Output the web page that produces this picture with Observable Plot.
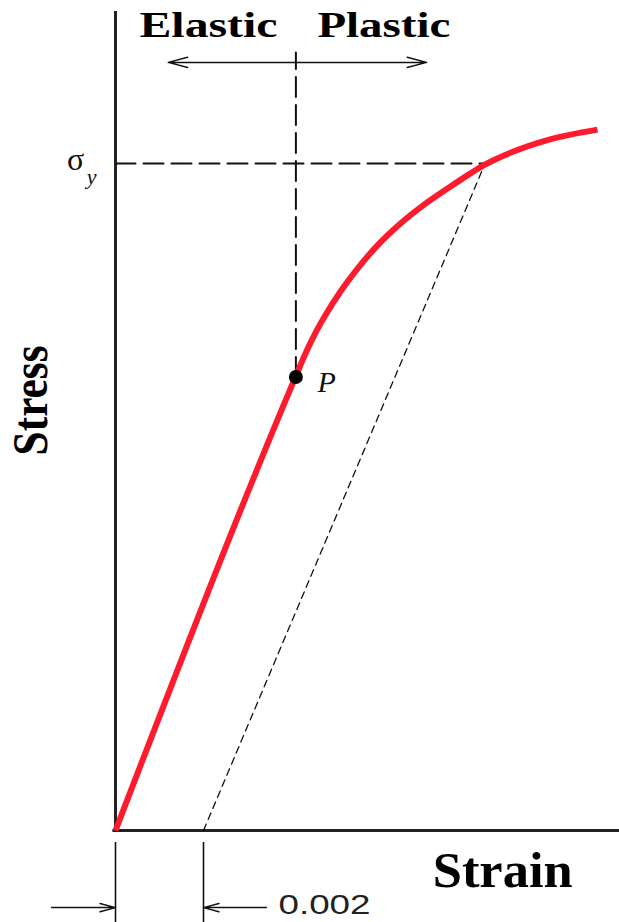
<!DOCTYPE html>
<html><head><meta charset="utf-8">
<script src="https://cdn.jsdelivr.net/npm/d3@7"></script>
<script src="https://cdn.jsdelivr.net/npm/@observablehq/plot@0.6"></script>
<style>body{margin:0;background:#fff;} svg{display:block;}</style>
</head><body><div id="chart"></div>
<script>
// stress–strain curve (strain, stress in arbitrary MPa)
const strain = [0, 0.004091, 0.004318, 0.004545, 0.004773, 0.005114, 0.0055, 0.005955, 0.006477, 0.007, 0.007545, 0.008068, 0.008364, 0.009045, 0.009818, 0.010955];
const stress = [0, 170.0, 178.8, 186.5, 193.2, 202.0, 210.6, 219.3, 227.5, 234.4, 240.6, 246.3, 249.3, 254.5, 258.8, 262.7];
const yieldStress = 250;
const yieldStrain = 0.0084;
const offsetStrain = 0.002;
const pStrain = 0.0041;
const pStress = 170;
const xLabel = "Strain";
const yLabel = "Stress";
const regionLabels = ["Elastic", "Plastic"];
const offsetLabel = "0.002";
const yieldLabel = "σ";
const yieldSub = "y";
const pointLabel = "P";

const curve = strain.map((s, i) => ({strain: s, stress: stress[i]}));
const serif = "Liberation Serif, Times New Roman, serif";
const sans = "Liberation Sans, Arial, sans-serif";

const chart = Plot.plot({
  width: 619, height: 922,
  marginLeft: 115, marginRight: 0, marginTop: 11, marginBottom: 92,
  x: {domain: [0, 0.011455], axis: null},
  y: {domain: [0, 306.97], axis: null},
  style: {background: "#fff"},
  marks: [
    // axes
    Plot.ruleX([0], {y1: 0, y2: 306.97, stroke: "#222", strokeWidth: 3}),
    Plot.ruleY([0], {x1: -0.00006, x2: 0.011455, stroke: "#222", strokeWidth: 3}),
    // sigma_y dashed horizontal
    Plot.line([{strain: 0, stress: yieldStress}, {strain: yieldStrain, stress: yieldStress}],
      {x: "strain", y: "stress", stroke: "#111", strokeWidth: 2, strokeDasharray: "20,8"}),
    // vertical dashed from P upward
    Plot.line([{strain: pStrain, stress: pStress}, {strain: pStrain, stress: 291.6}],
      {x: "strain", y: "stress", stroke: "#111", strokeWidth: 2, strokeDasharray: "20,8"}),
    // 0.2% offset line
    Plot.line([{strain: offsetStrain, stress: 0}, {strain: yieldStrain, stress: yieldStress}],
      {x: "strain", y: "stress", stroke: "#111", strokeWidth: 1.3, strokeDasharray: "7,5"}),
    // red stress-strain curve
    Plot.line(curve, {x: "strain", y: "stress", stroke: "#ff1a2e", strokeWidth: 6, curve: "monotone-x", strokeLinecap: "butt"}),
    // point P
    Plot.dot([{strain: pStrain, stress: pStress}], {x: "strain", y: "stress", r: 7, fill: "#000", stroke: "none"}),
    // elastic / plastic arrows
    Plot.arrow([{x1: pStrain, x2: 0.0012, y: 287.9}, {x1: pStrain, x2: 0.00707, y: 287.9}],
      {x1: "x1", x2: "x2", y1: "y", y2: "y", stroke: "#111", strokeWidth: 1.5, headLength: 20, headAngle: 30}),
    // bottom offset ticks & arrows
    Plot.ruleX([0, offsetStrain], {y1: -4.5, y2: -40, stroke: "#111", strokeWidth: 1.6}),
    Plot.arrow([{x1: -0.001455, x2: 0, y: -28.9}, {x1: 0.00343, x2: offsetStrain, y: -28.9}],
      {x1: "x1", x2: "x2", y1: "y", y2: "y", stroke: "#111", strokeWidth: 1.5, headLength: 16, headAngle: 30}),
    // text
    Plot.text([regionLabels[0]], {x: 0.002114, y: 301.5, text: d => d, fontFamily: serif, fontWeight: "bold", fontSize: 35, fill: "#000", lineAnchor: "middle"}),
    Plot.text([regionLabels[1]], {x: 0.0061, y: 301.5, text: d => d, fontFamily: serif, fontWeight: "bold", fontSize: 35, fill: "#000", lineAnchor: "middle"}),
    Plot.text([yLabel], {x: -0.00191, y: 161.2, text: d => d, rotate: -90, fontFamily: serif, fontWeight: "bold", fontSize: 50, fill: "#000", lineAnchor: "middle"}),
    Plot.text([xLabel], {x: 0.0088, y: -15.0, text: d => d, fontFamily: serif, fontWeight: "bold", fontSize: 50, fill: "#000", lineAnchor: "middle"}),
    Plot.text([yieldLabel], {x: -0.000909, y: 251.5, text: d => d, fontFamily: serif, fontSize: 32, fill: "#111", lineAnchor: "middle"}),
    Plot.text([yieldSub], {x: -0.000545, y: 244.8, text: d => d, fontFamily: serif, fontStyle: "italic", fontSize: 22, fill: "#111", lineAnchor: "middle"}),
    Plot.text([pointLabel], {x: 0.0048, y: 167.9, text: d => d, fontFamily: serif, fontStyle: "italic", fontSize: 30, fill: "#111", lineAnchor: "middle"}),
    Plot.text([offsetLabel], {x: 0.00475, y: -28.1, text: d => d, fontFamily: sans, fontSize: 28, fill: "#222", lineAnchor: "middle"})
  ]
});

const lengths = {Elastic: 138, Plastic: 133, Strain: 140, Stress: 110, "0.002": 92};
d3.select(chart).selectAll("text").each(function() {
  const t = this.textContent;
  if (lengths[t]) {
    this.setAttribute("textLength", lengths[t]);
    this.setAttribute("lengthAdjust", "spacingAndGlyphs");
  }
});
document.getElementById("chart").appendChild(chart);
</script>
</body></html>
